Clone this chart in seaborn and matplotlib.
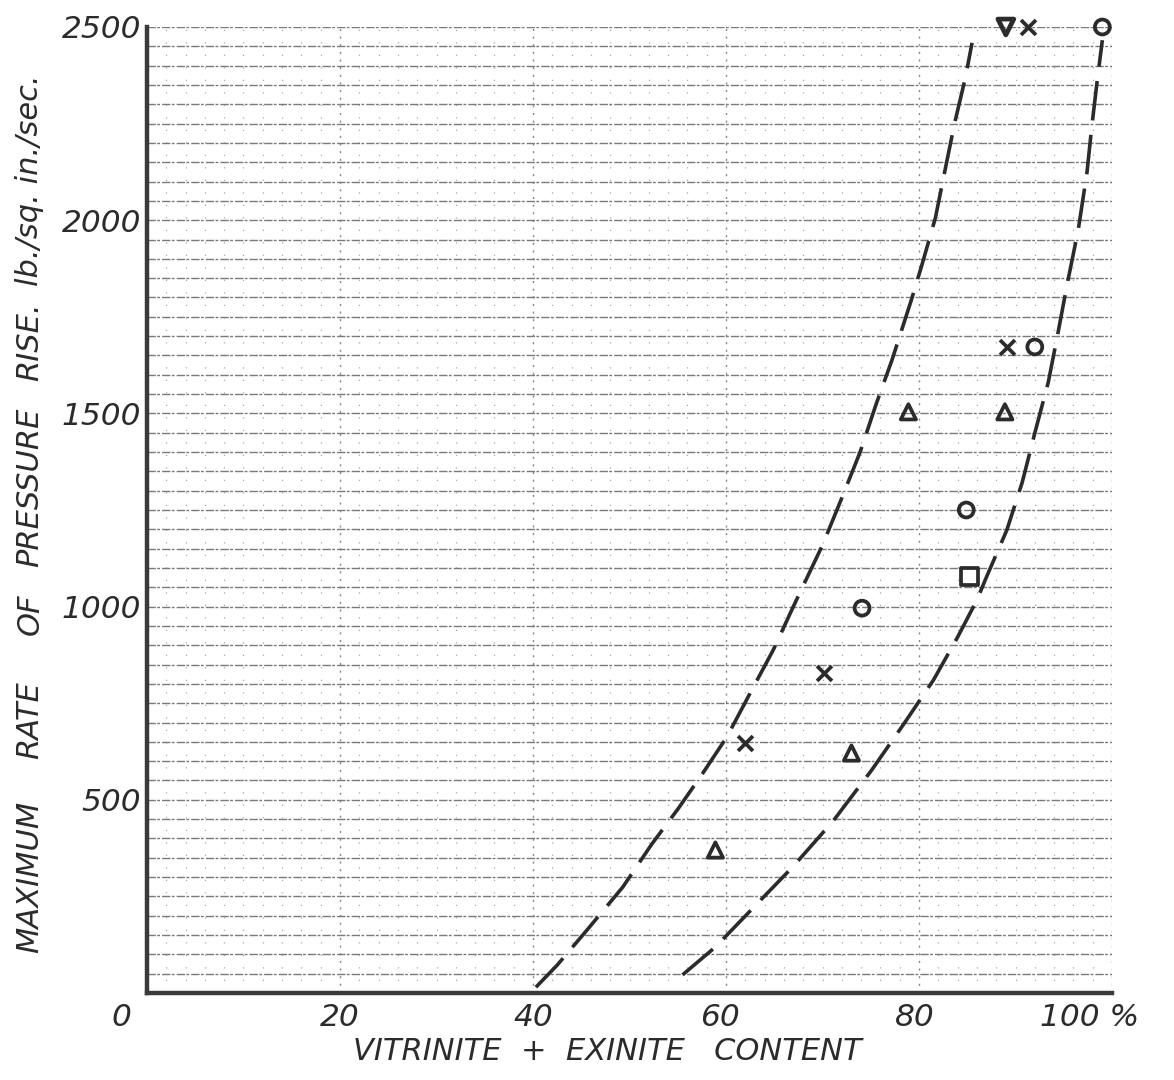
# Max rate of pressure rise vs vitrinite + exinite content (re-drawn from scan)
import numpy as np
import pandas as pd
import matplotlib
matplotlib.use('Agg')
import matplotlib.pyplot as plt
import matplotlib.transforms as mtransforms
import seaborn as sns

# Data
circle_x = [99.0, 92.0, 84.9, 74.1]
circle_y = [2500, 1672, 1250, 996]
cross_x = [91.3, 89.1, 70.2, 62.0]
cross_y = [2500, 1672, 828, 647]
tri_x = [78.9, 88.9, 73.0, 58.9]
tri_y = [1504, 1504, 621, 370]
square_x = [85.2]
square_y = [1077]
down_x = [89.0]
down_y = [2500]

# dashed envelope curves
left_curve_x = [40.3, 42.5, 45.7, 49.3, 52.3, 55.1, 57.6, 60.1, 62.5, 64.9, 67.2, 70.0,
                72.0, 73.9, 75.6, 77.2, 79.2, 80.3, 81.7, 82.7, 83.7, 84.8, 85.5]
left_curve_y = [15, 72, 166, 274, 385, 479, 569, 663, 776, 888, 1012, 1159,
                1281, 1400, 1527, 1638, 1793, 1884, 2006, 2130, 2252, 2368, 2459]
right_curve_x = [55.5, 58.9, 62.8, 66.9, 71.1, 75.1, 78.5, 81.5, 84.0, 86.0, 87.0,
                 89.1, 90.7, 92.0, 93.4, 94.4, 95.4, 96.5, 97.4, 97.9, 98.5, 99.0]
right_curve_y = [47, 119, 220, 326, 445, 577, 699, 810, 921, 1017, 1077,
                 1198, 1322, 1449, 1581, 1708, 1840, 1975, 2122, 2241, 2368, 2466]

x_ticks = [0, 20, 40, 60, 80, 100]
x_ticklabels = ['0', '20', '40', '60', '80', '100 %']
y_ticks = [500, 1000, 1500, 2000, 2500]
y_ticklabels = ['500', '1000', '1500', '2000', '2500']
ylabel_words = ['MAXIMUM', 'RATE', 'OF', 'PRESSURE', 'RISE.', 'lb./sq. in./sec.']
xlabel_text = 'VITRINITE  +  EXINITE   CONTENT'

df_pts = pd.concat([
    pd.DataFrame({'x': circle_x, 'y': circle_y, 'kind': 'circle'}),
    pd.DataFrame({'x': cross_x, 'y': cross_y, 'kind': 'cross'}),
    pd.DataFrame({'x': tri_x, 'y': tri_y, 'kind': 'triangle'}),
    pd.DataFrame({'x': square_x, 'y': square_y, 'kind': 'square'}),
    pd.DataFrame({'x': down_x, 'y': down_y, 'kind': 'down'}),
], ignore_index=True)

sns.set_style('white')
plt.rcParams['font.family'] = ['DejaVu Sans']
ink = '#2b2b2b'

fig = plt.figure(figsize=(11.74, 10.8), dpi=100)
ax = fig.add_axes([147/1174, 1 - 993/1080, (1112-147)/1174, (993-27)/1080])

# grid: horizontal every 50, vertical every 2 (faint)
ax.set_xlim(0, 100)
ax.set_ylim(0, 2500)
ax.set_xticks(x_ticks)
ax.set_xticks(np.arange(0, 101, 2), minor=True)
ax.set_yticks(y_ticks)
ax.set_yticks(np.arange(0, 2501, 50), minor=True)
ax.grid(axis='y', which='both', color='#7a7a7a', lw=1.0, linestyle=(0, (6, 1, 2, 1.5)))
ax.grid(axis='x', which='minor', color='#a8a8a8', lw=0.9, linestyle=(0, (1, 9)))
ax.grid(axis='x', which='major', color='#888888', lw=1.0, linestyle=(0, (1.5, 4)))
ax.set_axisbelow(True)

# curves
for cx, cy in [(left_curve_x, left_curve_y), (right_curve_x, right_curve_y)]:
    sns.lineplot(x=cx, y=cy, sort=False, estimator=None, ax=ax, color=ink,
                 lw=2.6, linestyle=(0, (11, 4)), solid_capstyle='butt')

# points
markers = {'circle': 'o', 'triangle': '^', 'square': 's', 'down': 'v'}
sizes = {'circle': 115, 'triangle': 120, 'square': 145, 'down': 130}
for kind, grp in df_pts.groupby('kind'):
    if kind == 'cross':
        ax.scatter(grp['x'], grp['y'], marker='x', s=115, color=ink, linewidths=2.7,
                   clip_on=False, zorder=5)
    else:
        lw = 3.4 if kind == 'down' else 2.7
        ax.scatter(grp['x'], grp['y'], marker=markers[kind], s=sizes[kind],
                   facecolors='none', edgecolors=ink, linewidths=lw,
                   clip_on=False, zorder=5)

# spines
sns.despine(ax=ax, top=True, right=True)
for side in ['left', 'bottom']:
    ax.spines[side].set_linewidth(3.2)
    ax.spines[side].set_color('#3a3a3a')

# tick labels
tick_font = dict(family='DejaVu Sans', style='italic', size=22.5, color=ink)
ax.set_xticklabels(x_ticklabels, **tick_font)
ax.set_yticklabels(y_ticklabels, **tick_font)
ax.tick_params(axis='both', which='both', length=0)
ax.tick_params(axis='x', pad=7)
ax.tick_params(axis='y', pad=4)

# shift some x labels the way they were hand lettered
x_shift_px = [-26, 0, 0, -6, -4, -22]
for lab, dx in zip(ax.get_xticklabels(), x_shift_px):
    lab.set_transform(lab.get_transform() +
                      mtransforms.ScaledTranslation(dx/100, 0, fig.dpi_scale_trans))

# axis labels
fig.text(607/1174, 1 - 1052/1080, xlabel_text, ha='center', va='center',
         fontsize=22, style='italic', color=ink)
word_y_px = [877, 720, 614, 487, 342, 180]
for word, ypx in zip(ylabel_words, word_y_px):
    fig.text(30/1174, 1 - ypx/1080, word, rotation=90, ha='center', va='center',
             fontsize=22, style='italic', color=ink)

plt.savefig('out.png', dpi=100, facecolor='white')
